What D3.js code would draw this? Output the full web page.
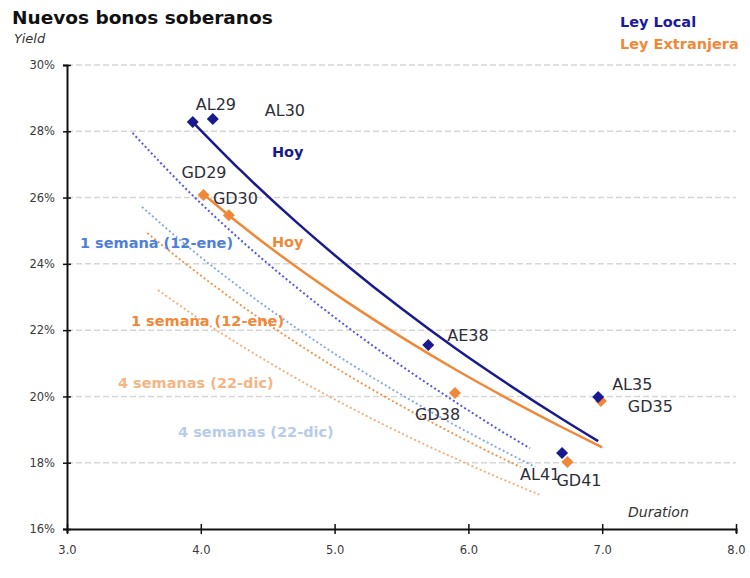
<!DOCTYPE html>
<html>
<head>
<meta charset="utf-8">
<script src="https://cdn.jsdelivr.net/npm/d3@7"></script>
<style>
  html, body { margin: 0; padding: 0; background: #fff; }
  svg { display: block; font-family: "DejaVu Sans", Verdana, sans-serif; }
</style>
</head>
<body>
<svg id="chart" width="750" height="578"></svg>
<script>
// Bonds under local law (Ley Local)
const localBonds = ["AL29", "AL30", "AE38", "AL35", "AL41"];
const localDuration = [3.94, 4.09, 5.70, 6.97, 6.70];
const localYield = [28.28, 28.37, 21.55, 19.98, 18.29];

// Bonds under foreign law (Ley Extranjera)
const foreignBonds = ["GD29", "GD30", "GD38", "GD35", "GD41"];
const foreignDuration = [4.02, 4.21, 5.90, 6.99, 6.74];
const foreignYield = [26.08, 25.47, 20.10, 19.86, 18.02];

// Yield curves: today
const localTodayDuration = [3.94, 4.3, 4.7, 5.1, 5.5, 5.9, 6.3, 6.7, 6.97];
const localTodayYield = [28.28, 26.81, 25.31, 23.93, 22.65, 21.46, 20.36, 19.32, 18.65];
const foreignTodayDuration = [4.01, 4.3, 4.7, 5.1, 5.5, 5.9, 6.3, 6.7, 7.0];
const foreignTodayYield = [26.14, 25.17, 23.95, 22.83, 21.79, 20.82, 19.92, 19.07, 18.46];

// Yield curves: one week ago (12-ene)
const localWeekDuration = [3.49, 3.9, 4.3, 4.7, 5.1, 5.5, 5.9, 6.3, 6.46];
const localWeekYield = [27.95, 26.22, 24.71, 23.34, 22.08, 20.92, 19.84, 18.82, 18.44];
const foreignWeekDuration = [3.6, 3.9, 4.3, 4.7, 5.1, 5.5, 5.9, 6.3, 6.39];
const foreignWeekYield = [24.93, 23.96, 22.75, 21.65, 20.64, 19.71, 18.85, 18.04, 17.87];

// Yield curves: four weeks ago (22-dic)
const localMonthDuration = [3.56, 3.9, 4.3, 4.7, 5.1, 5.5, 5.9, 6.3, 6.5];
const localMonthYield = [25.72, 24.53, 23.26, 22.10, 21.03, 20.05, 19.13, 18.28, 17.87];
const foreignMonthDuration = [3.68, 4.0, 4.4, 4.8, 5.2, 5.6, 6.0, 6.3, 6.53];
const foreignMonthYield = [23.21, 22.31, 21.29, 20.35, 19.49, 18.69, 17.95, 17.42, 17.04];

// Axis ticks
const yTicks = [16, 18, 20, 22, 24, 26, 28, 30];
const xTicks = [3, 4, 5, 6, 7, 8];

const BLUE = "#1a1a8e";
const ORANGE = "#f0883a";

const svg = d3.select("#chart");
const x = d3.scaleLinear().domain([3, 8]).range([67, 736]);
const y = d3.scaleLinear().domain([16, 30]).range([529, 65]);

// Horizontal gridlines
svg.append("g").selectAll("line")
  .data(yTicks.filter(d => d > 16))
  .join("line")
  .attr("x1", x(3)).attr("x2", x(8))
  .attr("y1", d => y(d)).attr("y2", d => y(d))
  .attr("stroke", "#d6d6d6").attr("stroke-width", 1.5)
  .attr("stroke-dasharray", "6,3");

// Axes
const yAxis = svg.append("g")
  .attr("transform", `translate(${x(3)},0)`)
  .call(d3.axisLeft(y).tickValues(yTicks).tickFormat(d => d + "%").tickSize(4).tickPadding(8));
const xAxis = svg.append("g")
  .attr("transform", `translate(0,${y(16)})`)
  .call(d3.axisBottom(x).tickValues(xTicks).tickFormat(d3.format(".1f")).tickSize(4).tickPadding(13));

[yAxis, xAxis].forEach(g => {
  g.select(".domain").attr("stroke", "#111").attr("stroke-width", 2);
  g.selectAll(".tick line").attr("stroke", "#111").attr("stroke-width", 1.5);
  g.selectAll(".tick text").attr("fill", "#3a3a3a").attr("font-size", 11.5)
    .attr("font-family", "DejaVu Sans, sans-serif");
});
yAxis.selectAll(".tick line").attr("x1", -4).attr("x2", 4);
xAxis.selectAll(".tick line").attr("y1", -5).attr("y2", 5);

// Curves
const zip = (xs, ys) => xs.map((d, i) => [d, ys[i]]);
const line = d3.line().x(d => x(d[0])).y(d => y(d[1])).curve(d3.curveMonotoneX);

const curves = [
  { pts: zip(foreignMonthDuration, foreignMonthYield), color: "#f5ae7e", width: 1.9, dash: "2,2.5" },
  { pts: zip(foreignWeekDuration, foreignWeekYield), color: "#f39248", width: 1.9, dash: "2,2.5" },
  { pts: zip(localMonthDuration, localMonthYield), color: "#86a9dc", width: 1.9, dash: "2,2.5" },
  { pts: zip(localWeekDuration, localWeekYield), color: "#5656ea", width: 2, dash: "2,2.5" },
  { pts: zip(foreignTodayDuration, foreignTodayYield), color: ORANGE, width: 2.5, dash: null },
  { pts: zip(localTodayDuration, localTodayYield), color: BLUE, width: 2.5, dash: null }
];
svg.append("g").selectAll("path")
  .data(curves)
  .join("path")
  .attr("d", d => line(d.pts))
  .attr("fill", "none")
  .attr("stroke", d => d.color)
  .attr("stroke-width", d => d.width)
  .attr("stroke-dasharray", d => d.dash);

// Bond markers
const diamond = d3.symbol().type(d3.symbolSquare).size(72);
function drawBonds(names, dur, yld, color) {
  svg.append("g").selectAll("path")
    .data(names.map((n, i) => ({ n, d: dur[i], y: yld[i] })))
    .join("path")
    .attr("d", diamond)
    .attr("transform", d => `translate(${x(d.d)},${y(d.y)}) rotate(45)`)
    .attr("fill", color);
}
drawBonds(foreignBonds, foreignDuration, foreignYield, ORANGE);
drawBonds(localBonds, localDuration, localYield, BLUE);

// Bond labels, offset from their markers
const labelOffset = {
  AL29: [3, -12], AL30: [52, -3], AE38: [19, -4], AL35: [14, -7], AL41: [-42, 27],
  GD29: [-22, -17], GD30: [-16, -11], GD38: [-40, 27], GD35: [27, 11], GD41: [-11, 24]
};
const allLabels = localBonds.map((n, i) => ({ n, d: localDuration[i], y: localYield[i] }))
  .concat(foreignBonds.map((n, i) => ({ n, d: foreignDuration[i], y: foreignYield[i] })));
svg.append("g").selectAll("text")
  .data(allLabels)
  .join("text")
  .attr("x", d => x(d.d) + labelOffset[d.n][0])
  .attr("y", d => y(d.y) + labelOffset[d.n][1])
  .attr("font-size", 16)
  .attr("fill", "#2e2e3a")
  .text(d => d.n);

// Curve annotations
const notes = [
  { t: "Hoy", d: 4.532, y: 27.22, c: BLUE },
  { t: "Hoy", d: 4.532, y: 24.51, c: ORANGE },
  { t: "1 semana (12-ene)", d: 3.097, y: 24.48, c: "#4f80d8" },
  { t: "1 semana (12-ene)", d: 3.478, y: 22.12, c: ORANGE },
  { t: "4 semanas (22-dic)", d: 3.381, y: 20.25, c: "#f6b584" },
  { t: "4 semanas (22-dic)", d: 3.830, y: 18.77, c: "#b9cbea" }
];
svg.append("g").selectAll("text")
  .data(notes)
  .join("text")
  .attr("x", d => x(d.d))
  .attr("y", d => y(d.y))
  .attr("font-size", 14.5)
  .attr("font-weight", "bold")
  .attr("fill", d => d.c)
  .text(d => d.t);

// Titles and legend
svg.append("text").attr("x", 12).attr("y", 24)
  .attr("font-size", 18.5).attr("font-weight", "bold").attr("fill", "#111")
  .text("Nuevos bonos soberanos");
svg.append("text").attr("x", 14).attr("y", 43)
  .attr("font-size", 13).attr("font-style", "italic").attr("fill", "#333")
  .text("Yield");
svg.append("text").attr("x", 628).attr("y", 517)
  .attr("font-size", 14).attr("font-style", "italic").attr("fill", "#333")
  .text("Duration");
svg.append("text").attr("x", 620).attr("y", 27)
  .attr("font-size", 14.5).attr("font-weight", "bold").attr("fill", "#1a1aa0")
  .text("Ley Local");
svg.append("text").attr("x", 620).attr("y", 49)
  .attr("font-size", 14.5).attr("font-weight", "bold").attr("fill", ORANGE)
  .text("Ley Extranjera");
</script>
</body>
</html>
